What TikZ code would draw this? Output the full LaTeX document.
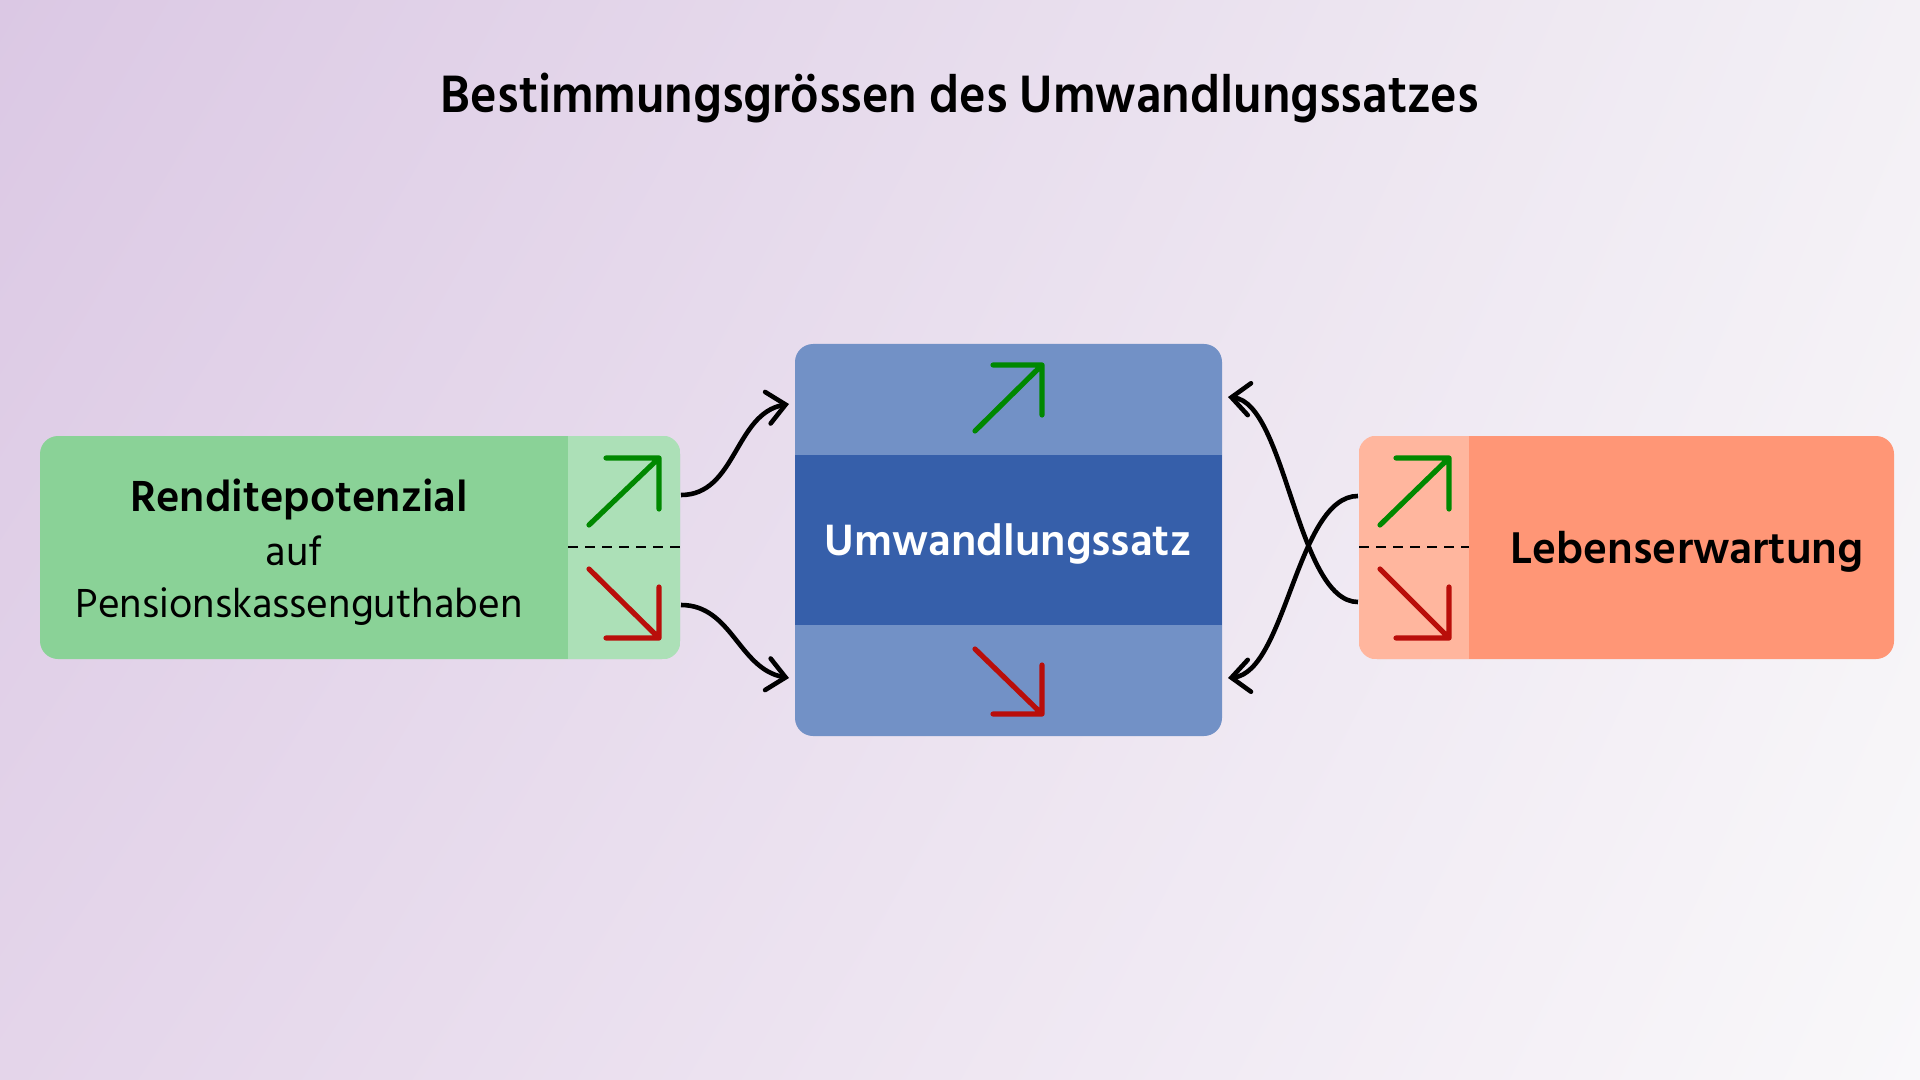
\documentclass[tikz,border=0pt]{standalone}
\usepackage{fontspec}
\setmainfont{Hind Siliguri}
\newfontfamily\semifont{Hind Siliguri SemiBold}
\newfontfamily\titlefont[FakeStretch=0.935]{Hind Siliguri SemiBold}
\usetikzlibrary{arrows.meta,shadings}
\definecolor{bgtl}{HTML}{DBC8E4}
\definecolor{bgtr}{HTML}{F3F0F5}
\definecolor{bgbl}{HTML}{E4D5EA}
\definecolor{bgbr}{HTML}{F9F8FA}
\definecolor{greenmain}{HTML}{8AD297}
\definecolor{greenlight}{HTML}{ACE0B7}
\definecolor{bluelight}{HTML}{7291C6}
\definecolor{bluedark}{HTML}{365FAA}
\definecolor{orangemain}{HTML}{FF9676}
\definecolor{orangelight}{HTML}{FFB69E}
\definecolor{upgreen}{HTML}{008800}
\definecolor{downred}{HTML}{B90E0A}
\tikzset{
  box/.style={rectangle, rounded corners=9pt, inner sep=0pt},
  trend/.style={line width=2.6pt, line cap=round, line join=round},
  link/.style={line width=2.3pt, -{Straight Barb[length=9pt,width=16pt,line cap=round]}},
  split/.style={line width=1.2pt, dash pattern=on 5pt off 3.5pt},
}
\begin{document}
\begin{tikzpicture}[x=0.5pt,y=-0.5pt]
\useasboundingbox (0,0) rectangle (1920,1080);
\shade[upper left=bgtl, upper right=bgtr, lower left=bgbl, lower right=bgbr] (0,0) rectangle (1920,1080);
% title
\node[anchor=base, font=\titlefont\fontsize{27}{32}\selectfont] (title) at (960,113) {Bestimmungsgrössen des Umwandlungssatzes};
% boxes
\node[box, fill=greenmain, minimum width=320pt, minimum height=111.5pt] (rendite) at (360,547.5) {};
\node[box, fill=bluelight, minimum width=213.5pt, minimum height=196pt] (satz) at (1008.5,540) {};
\node[box, fill=orangemain, minimum width=267.5pt, minimum height=111.5pt] (leben) at (1626.5,547.5) {};
\begin{scope}
\clip[rounded corners=9pt] (rendite.north west) rectangle (rendite.south east);
\fill[greenlight] (568,436) rectangle (680,659);
\end{scope}
\begin{scope}
\clip[rounded corners=9pt] (leben.north west) rectangle (leben.south east);
\fill[orangelight] (1359,436) rectangle (1469,659);
\end{scope}
\fill[bluedark] (795,455) rectangle (1222,625);
\draw[split] (568,547) -- (680,547);
\draw[split] (1359,547) -- (1469,547);
% labels
\node[anchor=base, font=\bfseries\fontsize{22.3}{26}\selectfont] (renditeT) at (299,511) {Renditepotenzial};
\node[anchor=base, font=\fontsize{20.8}{24}\selectfont] (aufT) at (294,565) {auf};
\node[anchor=base, font=\fontsize{20.8}{24}\selectfont] (kasseT) at (299,617) {Pensionskassenguthaben};
\node[anchor=base, text=white, font=\semifont\fontsize{22.5}{26}\selectfont] (satzT) at (1008,555) {Umwandlungssatz};
\node[anchor=base, font=\bfseries\fontsize{22.8}{26}\selectfont] (lebenT) at (1687,563) {Lebenserwartung};
% trend arrows
\draw[trend, upgreen] (589,525) -- (659,458) (606,458) -- (659,458) -- (659,509);
\draw[trend, downred] (589,569) -- (659,638) (606,638) -- (659,638) -- (659,587);
\draw[trend, upgreen] (975,431) -- (1042,365) (993,365) -- (1042,365) -- (1042,415);
\draw[trend, downred] (975,649) -- (1042,714) (993,714) -- (1042,714) -- (1042,665);
\draw[trend, upgreen] (1380,525) -- (1449,458) (1396,458) -- (1449,458) -- (1449,509);
\draw[trend, downred] (1380,569) -- (1449,638) (1396,638) -- (1449,638) -- (1449,587);
% connectors
\coordinate (rUp) at (681,495);
\coordinate (rDown) at (681,605);
\coordinate (sLU) at (789,404);
\coordinate (sLD) at (789,678);
\coordinate (sRU) at (1228,397);
\coordinate (sRD) at (1228,678);
\coordinate (lUp) at (1358,496);
\coordinate (lDown) at (1358,602);
\draw[link] (rUp) to[out=0, in=190] (sLU);
\draw[link] (rDown) to[out=0, in=170] (sLD);
\draw[link] (lUp) .. controls (1297,496) and (1286,672) .. (sRD);
\draw[link] (lDown) .. controls (1297,602) and (1286,403) .. (sRU);
\end{tikzpicture}
\end{document}
